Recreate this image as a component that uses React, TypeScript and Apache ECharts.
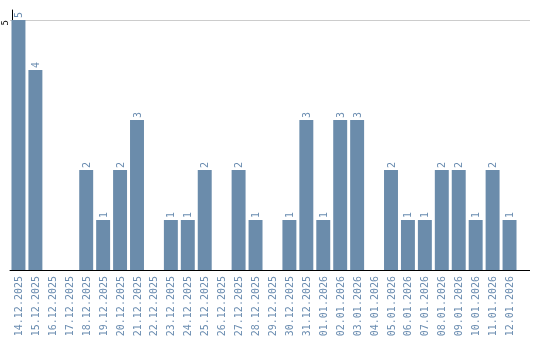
import React, { useEffect, useRef } from "react";
import * as echarts from "echarts";

const categories = [
  "14.12.2025", "15.12.2025", "16.12.2025", "17.12.2025", "18.12.2025", "19.12.2025",
  "20.12.2025", "21.12.2025", "22.12.2025", "23.12.2025", "24.12.2025", "25.12.2025",
  "26.12.2025", "27.12.2025", "28.12.2025", "29.12.2025", "30.12.2025", "31.12.2025",
  "01.01.2026", "02.01.2026", "03.01.2026", "04.01.2026", "05.01.2026", "06.01.2026",
  "07.01.2026", "08.01.2026", "09.01.2026", "10.01.2026", "11.01.2026", "12.01.2026",
];
const values = [5, 4, 0, 0, 2, 1, 2, 3, 0, 1, 1, 2, 0, 2, 1, 0, 1, 3, 1, 3, 3, 0, 2, 1, 1, 2, 2, 1, 2, 1];
const yTicks = [5];

const BAR = "#6b8cab";
const TXT = "#6a8cb0";
const FONT = "DejaVu Sans Mono";

export default function App() {
  const ref = useRef<HTMLDivElement>(null);
  useEffect(() => {
    const chart = echarts.init(ref.current!, null, { renderer: "svg" });
    chart.setOption({
      animation: false,
      grid: { left: 8, right: 22, top: 10, bottom: 70 },
      xAxis: {
        type: "category",
        data: categories,
        axisLine: { lineStyle: { color: "#000", width: 1 } },
        axisTick: { show: false },
        axisLabel: {
          rotate: 90,
          interval: 0,
          color: TXT,
          fontFamily: FONT,
          fontSize: 10,
          margin: 6,
        },
      },
      yAxis: {
        type: "value",
        min: 0,
        max: 5.2,
        interval: 5,
        offset: -2,
        axisLine: { show: true, lineStyle: { color: "#000", width: 1 } },
        axisTick: { show: false },
        splitLine: { showMaxLine: false, lineStyle: { color: "#cccccc" } },
        axisLabel: {
          rotate: 90,
          align: "right",
          color: "#000",
          fontFamily: FONT,
          fontSize: 9,
          margin: 3,
          showMinLabel: false,
          showMaxLabel: false,
          formatter: (v: number) => (yTicks.includes(v) ? String(v) : ""),
        },
      },
      series: [
        {
          type: "bar",
          data: values,
          barCategoryGap: "17.6%",
          itemStyle: { color: BAR },
          label: {
            show: true,
            position: "top",
            rotate: 90,
            align: "left",
            verticalAlign: "middle",
            distance: 2,
            color: TXT,
            fontFamily: FONT,
            fontSize: 10,
            formatter: (p: any) => (p.value > 0 ? String(p.value) : ""),
          },
        },
      ],
    });
    // extend the axis line and the grid line a little past the plot's right edge
    const c0 = chart.convertToPixel({ xAxisIndex: 0 }, 0) as number;
    const c1 = chart.convertToPixel({ xAxisIndex: 0 }, 1) as number;
    const cl = chart.convertToPixel({ xAxisIndex: 0 }, categories.length - 1) as number;
    const xr = cl + (c1 - c0) / 2;
    const y0 = chart.convertToPixel({ yAxisIndex: 0 }, 0) as number;
    const yTop = chart.convertToPixel({ yAxisIndex: 0 }, yTicks[0]) as number;
    const ext = 12;
    chart.setOption({
      graphic: [
        {
          type: "line",
          shape: { x1: xr, y1: Math.round(y0) + 0.5, x2: xr + ext, y2: Math.round(y0) + 0.5 },
          style: { stroke: "#000", lineWidth: 1 },
          silent: true,
        },
        {
          type: "line",
          shape: { x1: xr, y1: Math.round(yTop) + 0.5, x2: xr + ext, y2: Math.round(yTop) + 0.5 },
          style: { stroke: "#cccccc", lineWidth: 1 },
          silent: true,
        },
      ],
    });
    return () => chart.dispose();
  }, []);
  return (
    <div
      ref={ref}
      style={{ position: "fixed", left: 0, top: 0, width: 540, height: 340 }}
    />
  );
}
